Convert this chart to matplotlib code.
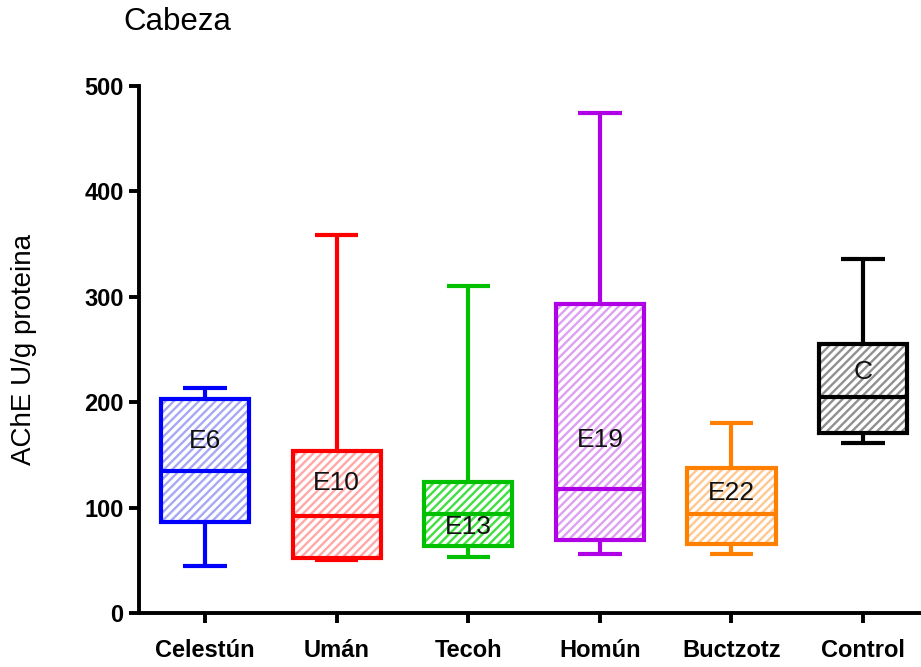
import matplotlib.pyplot as plt
from matplotlib.patches import PathPatch

plt.rcParams['font.family'] = ['Liberation Sans', 'DejaVu Sans']
plt.rcParams['hatch.linewidth'] = 1.7

sites = ['Celestún', 'Umán', 'Tecoh', 'Homún', 'Buctzotz', 'Control']
tags = ['E6', 'E10', 'E13', 'E19', 'E22', 'C']
whis_lo = [45, 50, 53, 56, 56, 161]
q1 = [86, 52, 64, 69, 65, 171]
med = [135, 92, 94, 118, 94, 205]
q3 = [203, 154, 124, 293, 138, 255]
whis_hi = [213, 359, 310, 474, 180, 336]
tag_y = [163, 123, 82, 164, 114, 229]

edge_cols = ['#0000ff', '#ff0000', '#00c000', '#b000e6', '#ff8000', '#000000']
hatch_cols = ['#a8a8f5', '#ffa8a8', '#40e040', '#dea0f2', '#ffc890', '#909090']

fig = plt.figure(figsize=(9.21, 6.67), dpi=100)
ax = fig.add_axes([139 / 921, 54 / 667, 782 / 921, 527 / 667])

stats = []
for i in range(len(sites)):
    stats.append(dict(whislo=whis_lo[i], q1=q1[i], med=med[i], q3=q3[i],
                      whishi=whis_hi[i], label=sites[i]))

pos = list(range(1, len(sites) + 1))
bp = ax.bxp(stats, positions=pos, widths=0.67, capwidths=0.33,
            showfliers=False, patch_artist=True)

for i, c in enumerate(edge_cols):
    # hatched fill in a light tint, outline drawn on top in full colour
    box = bp['boxes'][i]
    box.set_facecolor('white')
    box.set_edgecolor(hatch_cols[i])
    box.set_hatch('////')
    box.set_linewidth(0)
    ax.add_patch(PathPatch(box.get_path(), fill=False, edgecolor=c,
                           linewidth=3, zorder=3, joinstyle='miter'))
    bp['medians'][i].set(color=c, linewidth=3, zorder=4)
    for ln in bp['whiskers'][2 * i:2 * i + 2] + bp['caps'][2 * i:2 * i + 2]:
        ln.set(color=c, linewidth=3, solid_capstyle='butt')
    ax.text(pos[i], tag_y[i], tags[i], ha='center', va='center',
            fontsize=19, color='#111111', zorder=5)

ax.set_xlim(0.498, 6.44)
ax.set_ylim(0, 500)
ax.set_yticks([0, 100, 200, 300, 400, 500])
ax.set_xticks(pos)
ax.set_xticklabels(sites)

for s in ['top', 'right']:
    ax.spines[s].set_visible(False)
for s in ['left', 'bottom']:
    ax.spines[s].set_linewidth(2.8)

ax.tick_params(axis='both', width=2.8, length=7, labelsize=17)
ax.tick_params(axis='y', pad=4)
ax.tick_params(axis='x', pad=12)
for lab in ax.get_xticklabels() + ax.get_yticklabels():
    lab.set_fontweight('bold')

ax.set_ylabel('AChE U/g proteina', fontsize=20)
ax.yaxis.set_label_coords(-0.131, 0.5)

fig.text(123 / 921, 1 - 22 / 667, 'Cabeza', fontsize=22.5, va='center', ha='left')

fig.savefig('out.png', dpi=100)
